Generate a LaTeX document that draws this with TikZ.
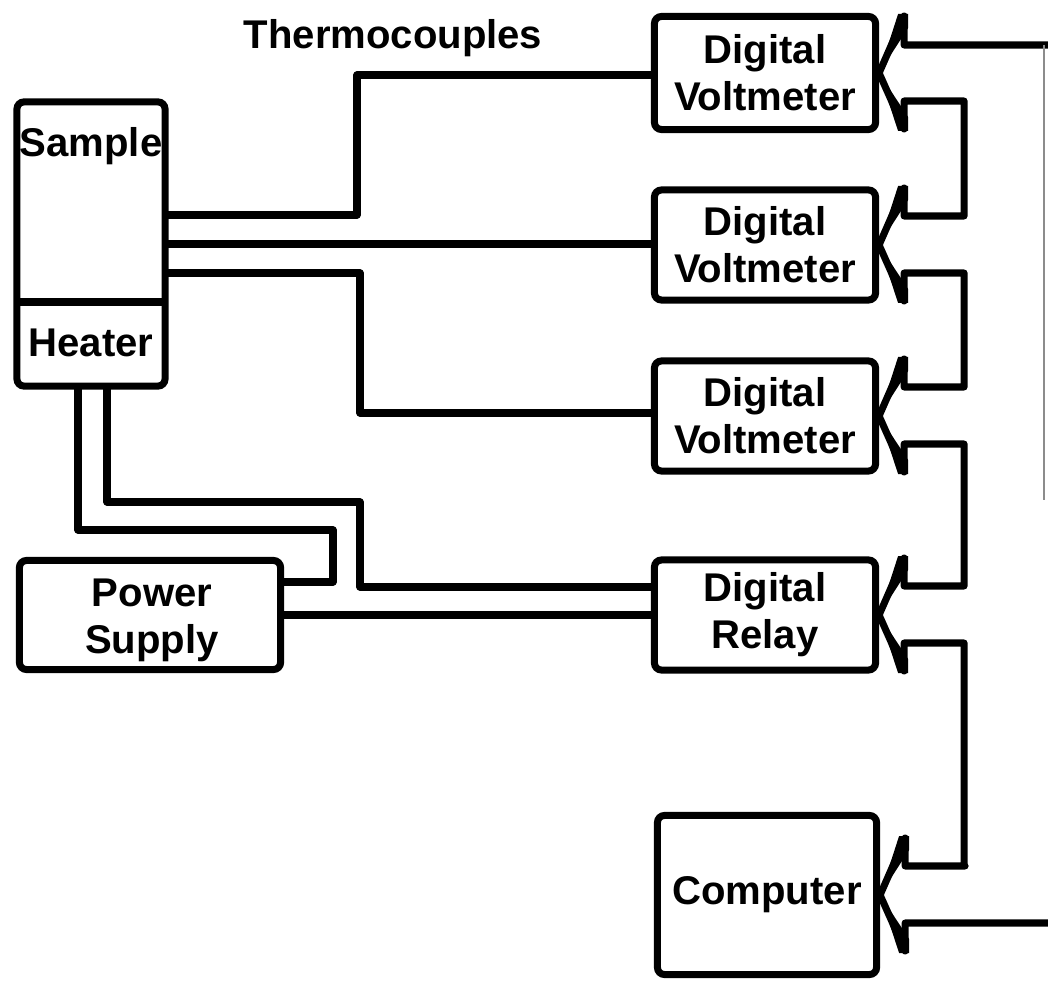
\documentclass[tikz,border=0pt]{standalone}
\usepackage{fontspec}
\setmainfont{Liberation Sans}
\usetikzlibrary{calc}
\newcommand\dgfont{\fontsize{11.4}{13.4}\selectfont\bfseries}
\begin{document}
\begin{tikzpicture}[x=0.01cm,y=-0.01cm,
  lw/.style={line width=2pt},
  box/.style={draw, lw, rounded corners=2pt, inner sep=0pt, align=center, font=\dgfont},
  lbl/.style={inner sep=0pt, align=center, font=\dgfont},
  wire/.style={lw, line join=round, line cap=round},
  faint/.style={line width=0.5pt, black!45}]
\useasboundingbox (0,0) rectangle (1048,982);

% boxes
\node[box, minimum width=1.48cm, minimum height=2.84cm] (sample) at (91,244) {};
\draw[lw] (17,302) -- (165,302);
\node[lbl] (sampletxt) at (91,146) {Sample};
\node[lbl] (heatertxt) at (91,343) {Heater};
\node[box, minimum width=2.61cm, minimum height=1.09cm] (psu) at (150,615) {};
\node[lbl] (psutxt) at (152,620) {Power\\Supply};
\node[box, minimum width=2.21cm, minimum height=1.13cm] (dvm1) at (765,73) {Digital\\Voltmeter};
\node[box, minimum width=2.21cm, minimum height=1.10cm] (dvm2) at (765,245) {Digital\\Voltmeter};
\node[box, minimum width=2.21cm, minimum height=1.10cm] (dvm3) at (765,416) {Digital\\Voltmeter};
\node[box, minimum width=2.21cm, minimum height=1.10cm] (relay) at (765,615) {Digital\\Relay};
\node[box, minimum width=2.19cm, minimum height=1.59cm] (comp) at (767,895) {Computer};
\node[lbl] (thermo) at (393,38) {Thermocouples};

% thermocouple wires
\draw[wire] (sample.east |- 0,215) -- (357,215) -- (357,75) -- (dvm1.west |- 0,75);
\draw[wire] (sample.east |- 0,244) -- (dvm2.west |- 0,244);
\draw[wire] (sample.east |- 0,273) -- (360,273) -- (360,413) -- (dvm3.west |- 0,413);

% heater wires
\draw[wire] (sample.south -| 107,0) -- (107,502) -- (360,502) -- (360,587) -- (relay.west |- 0,587);
\draw[wire] (sample.south -| 78,0) -- (78,530) -- (333,530) -- (333,582) -- (psu.east |- 0,582);
\draw[wire] (psu.east |- 0,615) -- (relay.west |- 0,615);

% bus with chevrons
\coordinate (rtop) at (1048,45);
\coordinate (rbot) at (1048,923);
\coordinate (redge) at (1044,500);
\draw[wire] (dvm1.east) -- ++(25,-57) -- ++(0,29) -- (rtop);
\draw[faint] (1044,45) -- (redge);
\foreach \a/\b in {dvm1/dvm2, dvm2/dvm3, dvm3/relay, relay/comp}{
  \draw[wire] (\a.east) -- ++(25,56) -- ++(0,-28) -- ++(60,0)
     |- ([shift={(85,-29)}]\b.east) -- ([shift={(25,-29)}]\b.east)
     -- ([shift={(25,-57)}]\b.east) -- (\b.east);
}
\draw[wire] (comp.east) -- ++(25,56) -- ++(0,-28) -- (rbot);
% tapered chevron arms
\foreach \b in {dvm1,dvm2,dvm3,relay,comp}{
  \fill (\b.east) -- ([shift={(19,58)}]\b.east) -- ([shift={(29,58)}]\b.east) -- ([shift={(29,44)}]\b.east) -- cycle;
  \fill (\b.east) -- ([shift={(19,-59)}]\b.east) -- ([shift={(29,-59)}]\b.east) -- ([shift={(29,-45)}]\b.east) -- cycle;
}
\end{tikzpicture}
\end{document}
